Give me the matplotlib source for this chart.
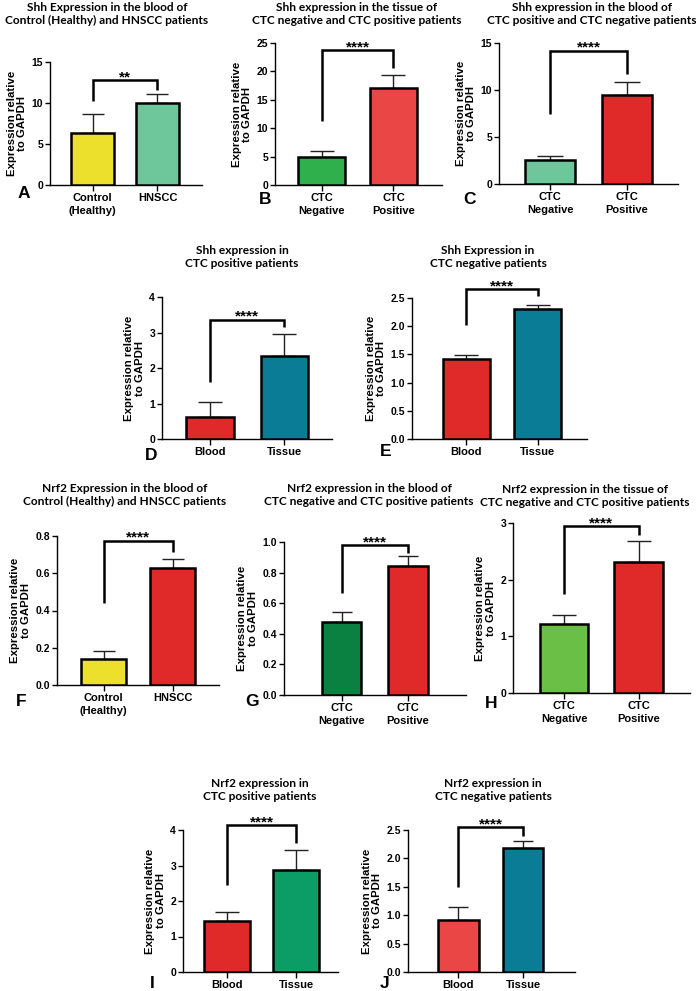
import matplotlib
matplotlib.use("Agg")
import matplotlib.pyplot as plt

# ---------------- data ----------------
A_title = "Shh Expression in the blood of\nControl (Healthy) and HNSCC patients"
A_cats = ["Control\n(Healthy)", "HNSCC"]
A_means = [6.36, 10.0]
A_errs = [2.3, 1.15]
A_bracket = [10.3, 12.8, 11.6]
A_stars = "**"

B_title = "Shh expression in the tissue of\nCTC negative and CTC positive patients"
B_cats = ["CTC\nNegative", "CTC\nPositive"]
B_means = [5.0, 17.1]
B_errs = [1.0, 2.3]
B_bracket = [11.3, 23.8, 20.6]
B_stars = "****"

C_title = "Shh expression in the blood of\nCTC positive and CTC negative patients"
C_cats = ["CTC\nNegative", "CTC\nPositive"]
C_means = [2.6, 9.45]
C_errs = [0.37, 1.4]
C_bracket = [7.5, 14.2, 11.7]
C_stars = "****"

D_title = "Shh expression in\nCTC positive patients"
D_cats = ["Blood", "Tissue"]
D_means = [0.61, 2.34]
D_errs = [0.44, 0.62]
D_bracket = [1.61, 3.36, 3.16]
D_stars = "****"

E_title = "Shh Expression in\nCTC negative patients"
E_cats = ["Blood", "Tissue"]
E_means = [1.42, 2.31]
E_errs = [0.07, 0.06]
E_bracket = [2.02, 2.66, 2.54]
E_stars = "****"

F_title = "Nrf2 Expression in the blood of\nControl (Healthy) and HNSCC patients"
F_cats = ["Control\n(Healthy)", "HNSCC"]
F_means = [0.14, 0.63]
F_errs = [0.04, 0.045]
F_bracket = [0.44, 0.775, 0.712]
F_stars = "****"

G_title = "Nrf2 expression in the blood of\nCTC negative and CTC positive patients"
G_cats = ["CTC\nNegative", "CTC\nPositive"]
G_means = [0.48, 0.84]
G_errs = [0.06, 0.066]
G_bracket = [0.667, 0.978, 0.928]
G_stars = "****"

H_title = "Nrf2 expression in the tissue of\nCTC negative and CTC positive patients"
H_cats = ["CTC\nNegative", "CTC\nPositive"]
H_means = [1.22, 2.32]
H_errs = [0.15, 0.36]
H_bracket = [1.74, 2.94, 2.78]
H_stars = "****"

I_title = "Nrf2 expression in\nCTC positive patients"
I_cats = ["Blood", "Tissue"]
I_means = [1.44, 2.86]
I_errs = [0.26, 0.58]
I_bracket = [2.45, 4.14, 3.62]
I_stars = "****"

J_title = "Nrf2 expression in\nCTC negative patients"
J_cats = ["Blood", "Tissue"]
J_means = [0.91, 2.18]
J_errs = [0.24, 0.12]
J_bracket = [1.5, 2.55, 2.39]
J_stars = "****"

YLABEL = "Expression relative\nto GAPDH"

# ---------------- colours ----------------
YELLOW = "#ECE02C"
MINT = "#6EC79B"
GREEN = "#2FB04C"
RED = "#E02A2A"
LRED = "#EB4646"
TEAL = "#0A7C95"
DKGREEN = "#0A8041"
LGREEN = "#6ABF46"
EMERALD = "#0C9C66"

# ---------------- layout (pixels) ----------------
W, H = 696, 991
panels = [
    dict(L="A", t=A_title, c=A_cats, m=A_means, e=A_errs, b=A_bracket, s=A_stars, col=[YELLOW, MINT],
         px=(50, 202, 62, 185), xl=(-0.654, 1.685), bw=0.66, ymax=15, step=5, dec=0, tc=(107, 14), lc=(24, 193)),
    dict(L="B", t=B_title, c=B_cats, m=B_means, e=B_errs, b=B_bracket, s=B_stars, col=[GREEN, LRED],
         px=(275, 442, 43, 185), xl=(-0.646, 1.674), bw=0.65, ymax=25, step=5, dec=0, tc=(357, 14), lc=(265, 200)),
    dict(L="C", t=C_title, c=C_cats, m=C_means, e=C_errs, b=C_bracket, s=C_stars, col=[MINT, RED],
         px=(499, 678, 43, 184), xl=(-0.662, 1.66), bw=0.65, ymax=15, step=5, dec=0, tc=(592, 14), lc=(470, 200)),
    dict(L="D", t=D_title, c=D_cats, m=D_means, e=D_errs, b=D_bracket, s=D_stars, col=[RED, TEAL],
         px=(162, 332, 297, 439), xl=(-0.644, 1.64), bw=0.64, ymax=4, step=1, dec=0, tc=(242, 257), lc=(151, 455)),
    dict(L="E", t=E_title, c=E_cats, m=E_means, e=E_errs, b=E_bracket, s=E_stars, col=[RED, TEAL],
         px=(412, 587, 298, 439), xl=(-0.76, 1.69), bw=0.66, ymax=2.5, step=0.5, dec=1, tc=(488, 257), lc=(386, 452)),
    dict(L="F", t=F_title, c=F_cats, m=F_means, e=F_errs, b=F_bracket, s=F_stars, col=[YELLOW, RED],
         px=(57, 219, 536, 685), xl=(-0.674, 1.67), bw=0.65, ymax=0.8, step=0.2, dec=1, tc=(125, 495), lc=(21, 701)),
    dict(L="G", t=G_title, c=G_cats, m=G_means, e=G_errs, b=G_bracket, s=G_stars, col=[DKGREEN, RED],
         px=(284, 466, 542, 695), xl=(-0.865, 1.87), bw=0.59, ymax=1.0, step=0.2, dec=1, tc=(369, 495), lc=(252, 701)),
    dict(L="H", t=H_title, c=H_cats, m=H_means, e=H_errs, b=H_bracket, s=H_stars, col=[LGREEN, RED],
         px=(513, 690, 523, 693), xl=(-0.685, 1.69), bw=0.65, ymax=3, step=1, dec=0, tc=(585, 496), lc=(491, 703)),
    dict(L="I", t=I_title, c=I_cats, m=I_means, e=I_errs, b=I_bracket, s=I_stars, col=[RED, EMERALD],
         px=(183, 338, 830, 972), xl=(-0.64, 1.61), bw=0.67, ymax=4, step=1, dec=0, tc=(260, 790), lc=(152, 983)),
    dict(L="J", t=J_title, c=J_cats, m=J_means, e=J_errs, b=J_bracket, s=J_stars, col=[LRED, TEAL],
         px=(408, 575, 830, 972), xl=(-0.77, 1.8), bw=0.63, ymax=2.5, step=0.5, dec=1, tc=(493, 790), lc=(385, 984)),
]

TICKFONT = "Liberation Sans"
TITLEFONT = "Lato"

fig = plt.figure(figsize=(W / 100, H / 100), dpi=100)
fig.patch.set_facecolor("white")

for p in panels:
    l, r, t, b = p["px"]
    ax = fig.add_axes([l / W, 1 - b / H, (r - l) / W, (b - t) / H])
    x = [0, 1]
    ax.bar(x, p["m"], width=p["bw"], color=p["col"], edgecolor="black", linewidth=1.8, zorder=3)
    spacing_px = (r - l) / (p["xl"][1] - p["xl"][0])
    cap = p["bw"] * spacing_px / 4 * 0.72
    ax.errorbar(x, p["m"], yerr=[[0, 0], p["e"]], fmt="none", ecolor="#222222",
                elinewidth=1.0, capsize=cap, capthick=1.0, zorder=2)
    # significance bracket
    yl, yt, yr = p["b"]
    ax.plot([0, 0, 1, 1], [yl, yt, yt, yr], color="black", lw=1.8, clip_on=False,
            solid_capstyle="butt", solid_joinstyle="miter", zorder=4)
    ax.text(0.5, yt + 0.02 * p["ymax"], p["s"], ha="center", va="center",
            fontsize=11, fontweight="bold", family=TICKFONT, clip_on=False)
    ax.set_xlim(*p["xl"])
    ax.set_ylim(0, p["ymax"])
    n = int(round(p["ymax"] / p["step"]))
    ticks = [i * p["step"] for i in range(n + 1)]
    ax.set_yticks(ticks)
    if p["dec"] == 0:
        ylabels = [str(int(round(v))) for v in ticks]
    else:
        ylabels = [f"{v:.{p['dec']}f}" for v in ticks]
    ax.set_yticklabels(ylabels, fontweight="bold", family=TICKFONT, fontsize=7.5)
    ax.set_xticks(x)
    ax.set_xticklabels(p["c"], fontweight="bold", family=TICKFONT, fontsize=8.0,
                       linespacing=1.4)
    for s in ["top", "right"]:
        ax.spines[s].set_visible(False)
    for s in ["left", "bottom"]:
        ax.spines[s].set_linewidth(1.0)
    ax.tick_params(axis="both", which="major", direction="out", length=3.5, width=1.0, pad=1.5)
    ax.tick_params(axis="x", length=4, pad=1.5)
    ax.set_ylabel(YLABEL, fontsize=8.2, fontweight="bold", family=TICKFONT, labelpad=3,
                  linespacing=1.1)
    # title and panel letter
    fig.text(p["tc"][0] / W, 1 - p["tc"][1] / H, p["t"], ha="center", va="center",
             fontsize=8.6, fontweight="bold", family=TITLEFONT, linespacing=1.3)
    fig.text(p["lc"][0] / W, 1 - p["lc"][1] / H, p["L"], ha="center", va="center",
             fontsize=12.5, fontweight="bold", family=TICKFONT)

fig.savefig("out.png", dpi=100, facecolor="white")
